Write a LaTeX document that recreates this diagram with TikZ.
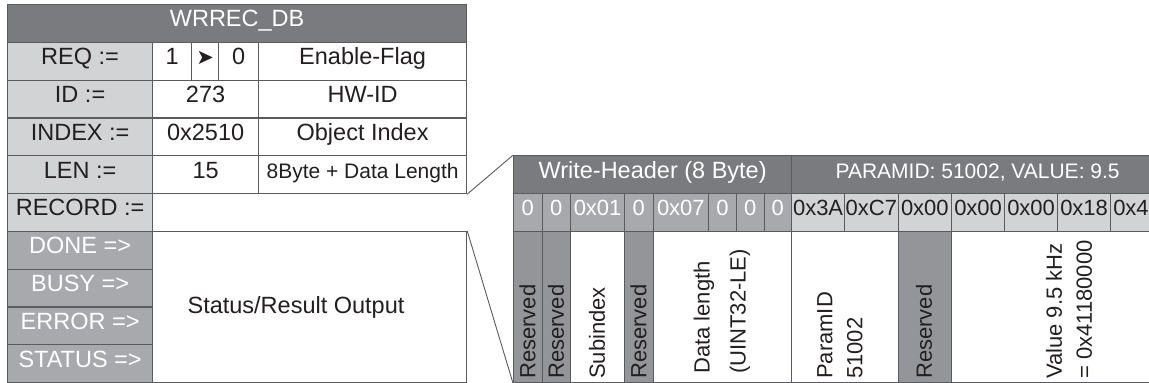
\documentclass[tikz,border=0pt]{standalone}
\usepackage{fontspec}
\setmainfont{Liberation Sans}
\newfontfamily\symFont{DejaVu Sans}
\definecolor{lineGr}{RGB}{90,91,94}
\definecolor{barGr}{RGB}{122,123,126}
\definecolor{lightGr}{RGB}{209,211,212}
\definecolor{midGr}{RGB}{167,169,172}
\definecolor{resGr}{RGB}{147,149,152}
\definecolor{txtBk}{RGB}{35,31,32}
\newcommand{\recFont}{\fontsize{23.5}{26}\selectfont}
\newcommand{\byteFont}{\fontsize{22}{24}\selectfont}
\newcommand{\vertFont}{\fontsize{22}{30}\selectfont}
\begin{document}
\begin{tikzpicture}[
    x=1pt,y=-1pt,
    cellBase/.style={rectangle,draw=lineGr,line width=1.2pt,inner sep=0pt,anchor=north west,minimum height=37.8pt,
        text height=0.72em,text depth=0.04em,font=\recFont,text=txtBk},
    titleCell/.style={cellBase,fill=barGr,text=white},
    lblCell/.style={cellBase,fill=lightGr,minimum width=145pt},
    outCell/.style={cellBase,fill=midGr,text=white,minimum width=145pt},
    valCell/.style={cellBase,fill=white},
    hdByte/.style={cellBase,fill=midGr,text=white,font=\byteFont},
    pmByte/.style={cellBase,fill=lightGr,font=\byteFont},
    resCol/.style={cellBase,fill=resGr,minimum height=151.2pt},
    descCol/.style={cellBase,fill=white,minimum height=151.2pt},
    vTxt/.style={rotate=90,anchor=west,align=left,inner sep=0pt,font=\vertFont,text=txtBk},
    zoomLn/.style={draw=lineGr,line width=0.9pt},
]
\path[use as bounding box,clip] (0,0) rectangle (1149,383);
% WRREC_DB block
\node[titleCell,minimum width=459pt] (tTitle) at (7,4) {WRREC\_DB};
\node[lblCell] (lReq) at (7,41.8) {REQ :=};
\node[lblCell] (lId) at (7,79.6) {ID :=};
\node[lblCell] (lIdx) at (7,117.4) {INDEX :=};
\node[lblCell] (lLen) at (7,155.2) {LEN :=};
\node[lblCell] (lRec) at (7,193) {RECORD :=};
\node[valCell,minimum width=39pt] (vReq1) at (152,41.8) {1};
\node[valCell,minimum width=27pt,font=\symFont\fontsize{21}{22}\selectfont] (vReqA) at (191,41.8) {➤};
\node[valCell,minimum width=40pt] (vReq0) at (218,41.8) {0};
\node[valCell,minimum width=208pt] (dReq) at (258,41.8) {Enable-Flag};
\node[valCell,minimum width=106pt] (vId) at (152,79.6) {273};
\node[valCell,minimum width=208pt] (dId) at (258,79.6) {HW-ID};
\node[valCell,minimum width=106pt] (vIdx) at (152,117.4) {0x2510};
\node[valCell,minimum width=208pt] (dIdx) at (258,117.4) {Object Index};
\node[valCell,minimum width=106pt] (vLen) at (152,155.2) {15};
\node[valCell,minimum width=208pt,font=\fontsize{21}{24}\selectfont] (dLen) at (258,155.2) {8Byte + Data Length};
% outputs
\node[outCell] (oDone) at (7,230.8) {DONE =>};
\node[outCell] (oBusy) at (7,268.6) {BUSY =>};
\node[outCell] (oErr) at (7,306.4) {ERROR =>};
\node[outCell] (oStat) at (7,344.2) {STATUS =>};
\node[valCell,minimum width=314pt,minimum height=151.2pt] (lOut) at (152,230.8) {};
\node[font=\recFont,text=txtBk] (tOut) at (296,307) {Status/Result Output};
% record detail
\node[titleCell,minimum width=278pt] (hWH) at (513,155.2) {Write-Header (8 Byte)};
\node[titleCell,minimum width=372pt,font=\fontsize{21}{24}\selectfont] (hPM) at (791,155.2) {PARAMID: 51002, VALUE: 9.5};
\node[hdByte,minimum width=28.5pt] (b0) at (513,193) {0};
\node[hdByte,minimum width=28.5pt] (b1) at (541.5,193) {0};
\node[hdByte,minimum width=54pt] (b2) at (570,193) {0x01};
\node[hdByte,minimum width=28.5pt] (b3) at (624,193) {0};
\node[hdByte,minimum width=55.5pt] (b4) at (652.5,193) {0x07};
\node[hdByte,minimum width=28pt] (b5) at (708,193) {0};
\node[hdByte,minimum width=27.5pt] (b6) at (736,193) {0};
\node[hdByte,minimum width=27.5pt] (b7) at (763.5,193) {0};
\node[pmByte,minimum width=53pt] (b8) at (791,193) {0x3A};
\node[pmByte,minimum width=53.5pt] (b9) at (844,193) {0xC7};
\node[pmByte,minimum width=53.5pt] (b10) at (897.5,193) {0x00};
\node[pmByte,minimum width=53pt] (b11) at (951,193) {0x00};
\node[pmByte,minimum width=53pt] (b12) at (1004,193) {0x00};
\node[pmByte,minimum width=53pt] (b13) at (1057,193) {0x18};
\node[pmByte,minimum width=53pt] (b14) at (1110,193) {0x41};
\node[resCol,minimum width=28.5pt] (dRes1) at (513,230.8) {};
\node[resCol,minimum width=28.5pt] (dRes2) at (541.5,230.8) {};
\node[descCol,minimum width=54pt] (dSub) at (570,230.8) {};
\node[resCol,minimum width=28.5pt] (dRes3) at (624,230.8) {};
\node[descCol,minimum width=138.5pt] (dDlen) at (652.5,230.8) {};
\node[descCol,minimum width=106.5pt] (dPid) at (791,230.8) {};
\node[resCol,minimum width=53.5pt] (dRes4) at (897.5,230.8) {};
\node[descCol,minimum width=212pt] (dVal) at (951,230.8) {};
\node[vTxt] (tRes1) at (527.5,379) {Reserved};
\node[vTxt] (tRes2) at (556,379) {Reserved};
\node[vTxt] (tSub) at (597,379) {Subindex};
\node[vTxt] (tRes3) at (638.5,379) {Reserved};
\node[vTxt,font=\fontsize{22}{36}\selectfont] (tDlen) at (722,374) {Data length\\(UINT32-LE)};
\node[vTxt] (tPid) at (840,379) {ParamID\\51002};
\node[vTxt] (tRes4) at (924,379) {Reserved};
\node[vTxt] (tVal) at (1069,379) {Value 9.5 kHz\\= 0x41180000};
% zoom lines
\draw[zoomLn] (dLen.south east) -- (hWH.north west);
\draw[zoomLn] (lOut.north east) -- (dRes1.south west);
\end{tikzpicture}
\end{document}
